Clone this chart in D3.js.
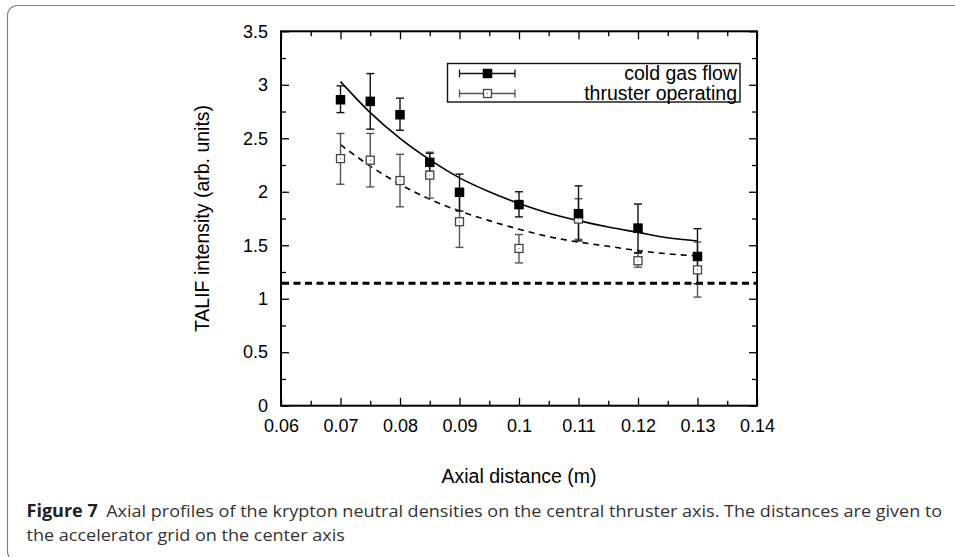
<!DOCTYPE html>
<html>
<head>
  <meta charset="utf-8">
  <title>Axial profiles of krypton neutral densities</title>
  <script src="https://cdn.jsdelivr.net/npm/d3@7"></script>
  <style>
    body {
      margin: 0;
      background: #fff;
      overflow: hidden;
    }
    svg text {
      font-family: "Liberation Sans", Arial, sans-serif;
    }
  </style>
</head>
<body>
  <svg id="chart" width="955" height="557"></svg>
  <script>
    // measured points (axial distance in m)
    const distance = [0.07, 0.075, 0.08, 0.085, 0.09, 0.1, 0.11, 0.12, 0.13];
    const coldValue = [2.86, 2.845, 2.72, 2.275, 1.995, 1.88, 1.795, 1.66, 1.395];
    const coldLow = [2.74, 2.585, 2.575, 2.19, 1.82, 1.765, 1.54, 1.43, 1.14];
    const coldHigh = [2.99, 3.105, 2.875, 2.36, 2.165, 2.0, 2.055, 1.885, 1.655];
    const thrValue = [2.31, 2.295, 2.105, 2.155, 1.72, 1.47, 1.745, 1.355, 1.27];
    const thrLow = [2.07, 2.045, 1.86, 1.94, 1.48, 1.335, 1.555, 1.295, 1.015];
    const thrHigh = [2.545, 2.545, 2.35, 2.37, 1.96, 1.6, 1.935, 1.425, 1.53];

    // fitted curves
    const fitX = [0.07, 0.075, 0.08, 0.085, 0.09, 0.095, 0.1, 0.105, 0.11, 0.115, 0.12, 0.125, 0.13];
    const coldFit = [3.03, 2.74, 2.50, 2.30, 2.13, 2.00, 1.89, 1.80, 1.73, 1.67, 1.62, 1.57, 1.54];
    const thrFit = [2.44, 2.24, 2.07, 1.93, 1.82, 1.73, 1.65, 1.58, 1.53, 1.49, 1.45, 1.42, 1.40];

    const backgroundLevel = 1.145;

    const xTicks = [0.06, 0.07, 0.08, 0.09, 0.1, 0.11, 0.12, 0.13, 0.14];
    const yTicks = [0, 0.5, 1, 1.5, 2, 2.5, 3, 3.5];
    const legendLabels = ['cold gas flow', 'thruster operating'];

    const svg = d3.select('#chart');

    // panel border
    svg.append('rect')
      .attr('x', 7.5).attr('y', 5.5)
      .attr('width', 970).attr('height', 556)
      .attr('rx', 10).attr('ry', 10)
      .attr('fill', 'none')
      .attr('stroke', '#808080')
      .attr('stroke-width', 1.2);

    const plotLeft = 281, plotRight = 757, plotTop = 31.3, plotBottom = 405.7;

    const x = d3.scaleLinear().domain([0.06, 0.14]).range([plotLeft, plotRight]);
    const y = d3.scaleLinear().domain([0, 3.5]).range([plotBottom, plotTop]);

    const xMinor = d3.range(0.065, 0.14, 0.01);
    const yMinor = d3.range(0.25, 3.5, 0.5);

    const fmt = d => String(+d.toFixed(3));

    // axes: ticks pointing inward on every side
    function axisGroup(axis, tx, ty) {
      const g = svg.append('g').attr('transform', `translate(${tx},${ty})`).call(axis);
      g.select('.domain').remove();
      g.selectAll('line').attr('stroke', '#000').attr('stroke-width', 1.3);
      return g;
    }

    const gx = axisGroup(d3.axisBottom(x).tickValues(xTicks).tickSize(-8).tickPadding(14).tickFormat(fmt), 0, plotBottom);
    gx.selectAll('text').attr('font-size', 18).attr('fill', '#000').attr('dy', '0.71em');
    axisGroup(d3.axisBottom(x).tickValues(xMinor).tickSize(-5).tickFormat(''), 0, plotBottom);
    axisGroup(d3.axisTop(x).tickValues(xTicks).tickSize(-8).tickFormat(''), 0, plotTop);
    axisGroup(d3.axisTop(x).tickValues(xMinor).tickSize(-5).tickFormat(''), 0, plotTop);

    const gy = axisGroup(d3.axisLeft(y).tickValues(yTicks).tickSize(-8).tickPadding(13).tickFormat(fmt), plotLeft, 0);
    gy.selectAll('text').attr('font-size', 18).attr('fill', '#000');
    axisGroup(d3.axisLeft(y).tickValues(yMinor).tickSize(-5).tickFormat(''), plotLeft, 0);
    axisGroup(d3.axisRight(y).tickValues(yTicks).tickSize(-8).tickFormat(''), plotRight, 0);
    axisGroup(d3.axisRight(y).tickValues(yMinor).tickSize(-5).tickFormat(''), plotRight, 0);

    // frame
    svg.append('rect')
      .attr('x', plotLeft).attr('y', plotTop)
      .attr('width', plotRight - plotLeft).attr('height', plotBottom - plotTop)
      .attr('fill', 'none').attr('stroke', '#000').attr('stroke-width', 2);

    // axis titles
    svg.append('text')
      .attr('x', (plotLeft + plotRight) / 2).attr('y', 483)
      .attr('text-anchor', 'middle').attr('font-size', 19.5)
      .text('Axial distance (m)');

    svg.append('text')
      .attr('transform', `translate(208.5,${(plotTop + plotBottom) / 2}) rotate(-90)`)
      .attr('text-anchor', 'middle').attr('font-size', 19.5)
      .text('TALIF intensity (arb. units)');

    // background level
    svg.append('line')
      .attr('x1', plotLeft + 1).attr('x2', plotRight - 1)
      .attr('y1', y(backgroundLevel)).attr('y2', y(backgroundLevel))
      .attr('stroke', '#000').attr('stroke-width', 3)
      .attr('stroke-dasharray', '7,4.5');

    // fit curves
    const line = d3.line().x(d => x(d[0])).y(d => y(d[1])).curve(d3.curveMonotoneX);
    svg.append('path')
      .attr('d', line(fitX.map((d, i) => [d, coldFit[i]])))
      .attr('fill', 'none').attr('stroke', '#000').attr('stroke-width', 1.6);
    svg.append('path')
      .attr('d', line(fitX.map((d, i) => [d, thrFit[i]])))
      .attr('fill', 'none').attr('stroke', '#000').attr('stroke-width', 1.6)
      .attr('stroke-dasharray', '6,5');

    const capW = 4;

    function errorBars(values, lows, highs, color) {
      const g = svg.append('g').attr('stroke', color).attr('stroke-width', 1.4);
      distance.forEach((d, i) => {
        const cx = x(d);
        g.append('line').attr('x1', cx).attr('x2', cx).attr('y1', y(lows[i])).attr('y2', y(highs[i]));
        g.append('line').attr('x1', cx - capW).attr('x2', cx + capW).attr('y1', y(lows[i])).attr('y2', y(lows[i]));
        g.append('line').attr('x1', cx - capW).attr('x2', cx + capW).attr('y1', y(highs[i])).attr('y2', y(highs[i]));
      });
    }

    function filledSquare(g, cx, cy) {
      g.append('rect').attr('x', cx - 4.75).attr('y', cy - 4.75)
        .attr('width', 9.5).attr('height', 9.5).attr('fill', '#000');
    }

    function openSquare(g, cx, cy) {
      g.append('rect').attr('x', cx - 4).attr('y', cy - 4)
        .attr('width', 8).attr('height', 8)
        .attr('fill', '#fff').attr('stroke', '#444').attr('stroke-width', 1.3);
      g.append('rect').attr('x', cx - 0.5).attr('y', cy - 0.5)
        .attr('width', 1).attr('height', 1).attr('fill', '#555');
    }

    errorBars(thrValue, thrLow, thrHigh, '#555');
    errorBars(coldValue, coldLow, coldHigh, '#111');

    const marks = svg.append('g');
    distance.forEach((d, i) => openSquare(marks, x(d), y(thrValue[i])));
    distance.forEach((d, i) => filledSquare(marks, x(d), y(coldValue[i])));

    // legend
    const legend = svg.append('g');
    legend.append('rect')
      .attr('x', 447.5).attr('y', 63.5).attr('width', 292.5).attr('height', 38.5)
      .attr('fill', '#fff').attr('stroke', '#111').attr('stroke-width', 1.4);

    legendLabels.forEach((label, i) => {
      const ly = 73.5 + i * 20;
      const color = i === 0 ? '#111' : '#555';
      legend.append('line').attr('x1', 459.5).attr('x2', 515).attr('y1', ly).attr('y2', ly)
        .attr('stroke', color).attr('stroke-width', 1.3);
      [459.5, 515].forEach(ex => {
        legend.append('line').attr('x1', ex).attr('x2', ex).attr('y1', ly - 4).attr('y2', ly + 4)
          .attr('stroke', color).attr('stroke-width', 1.3);
      });
      if (i === 0) filledSquare(legend, 487.5, ly);
      else openSquare(legend, 487.5, ly);
      legend.append('text')
        .attr('x', 737).attr('y', ly + 6.5)
        .attr('text-anchor', 'end').attr('font-size', 19.5)
        .text(label);
    });

    // caption
    const caption = svg.append('g').attr('fill', '#333');
    const line1 = caption.append('text')
      .attr('x', 0).attr('y', 0)
      .attr('font-size', 17)
      .style('font-family', '"Open Sans", "Noto Sans", sans-serif');
    line1.append('tspan').attr('font-weight', 'bold').attr('fill', '#222').text('Figure 7');
    line1.append('tspan').attr('dx', 8).text('Axial profiles of the krypton neutral densities on the central thruster axis. The distances are given to');
    caption.append('text')
      .attr('x', 0).attr('y', 25)
      .attr('font-size', 17)
      .style('font-family', '"Open Sans", "Noto Sans", sans-serif')
      .text('the accelerator grid on the center axis');

    const natural = line1.node().getBBox().width;
    const sx = 916 / natural;
    caption.attr('transform', `translate(26.5,516.5) scale(${sx},1)`);
  </script>
</body>
</html>
